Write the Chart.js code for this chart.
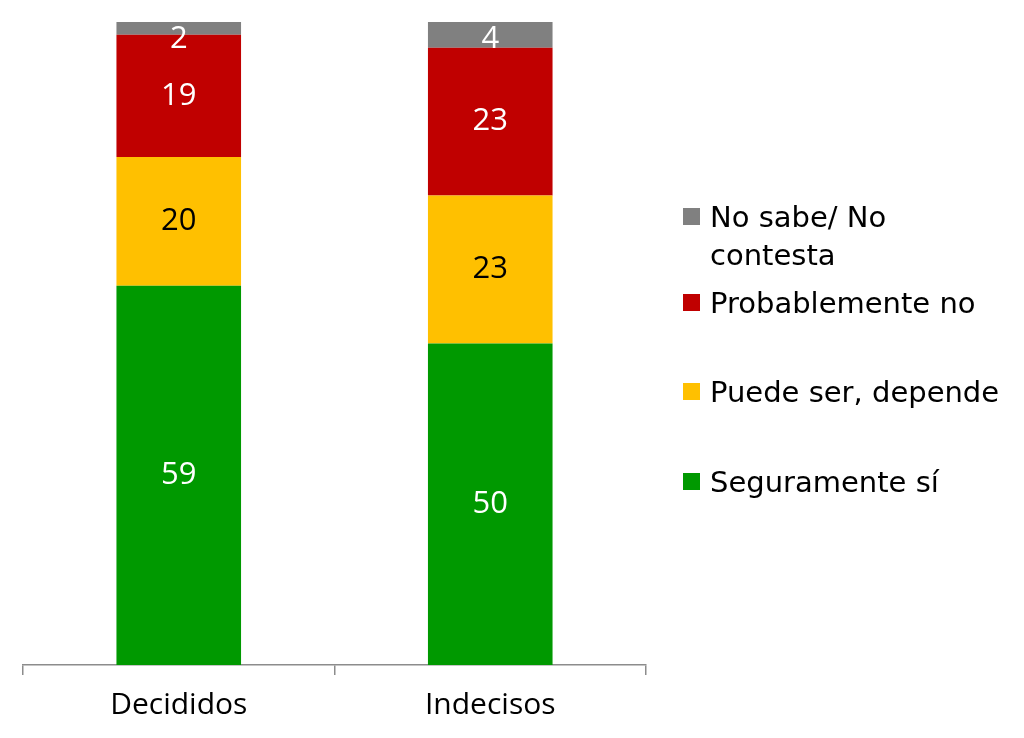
<!DOCTYPE html>
<html>
<head>
<meta charset="utf-8">
<script src="https://cdn.jsdelivr.net/npm/chart.js@4"></script>
<style>
  html, body { margin: 0; padding: 0; background: #fff; }
  #wrap { position: relative; width: 1024px; height: 738px; }
  #legend { position: absolute; left: 0; top: 0; }
  .item { position: absolute; left: 683px; font-family: "DejaVu Sans", sans-serif; font-size: 29px; line-height: 38px; color: #000; }
  .item .box { position: absolute; left: 0; top: 10px; width: 17px; height: 17px; }
  .item .txt { position: absolute; left: 27px; top: 0; width: 300px; }
</style>
</head>
<body>
<div id="wrap">
  <canvas id="chart" width="1024" height="738"></canvas>
  <div id="legend"></div>
</div>
<script>
// datos
const categories = ['Decididos', 'Indecisos'];
const seriesNames = ['Seguramente sí', 'Puede ser, depende', 'Probablemente no', 'No sabe/ No contesta'];
const seguramente = [59, 50];
const puedeSer = [20, 23];
const probablementeNo = [19, 23];
const noSabe = [2, 4];
const colors = ['#009900', '#FFC000', '#C00000', '#808080'];
const labelColors = ['#fff', '#000', '#fff', '#fff'];

const seriesValues = [seguramente, puedeSer, probablementeNo, noSabe];

// etiquetas de valor dentro de las barras
const valueLabels = {
  id: 'valueLabels',
  afterDatasetsDraw(chart) {
    const ctx = chart.ctx;
    ctx.save();
    ctx.font = '31px "Open Sans", sans-serif';
    ctx.textAlign = 'center';
    ctx.textBaseline = 'middle';
    chart.data.datasets.forEach((ds, i) => {
      const meta = chart.getDatasetMeta(i);
      meta.data.forEach((bar, j) => {
        const top = Math.min(bar.y, bar.base);
        const mid = (bar.y + bar.base) / 2;
        const y = Math.max(mid, top + 17);
        ctx.fillStyle = labelColors[i];
        ctx.fillText(ds.data[j], bar.x, y);
      });
    });
    ctx.restore();
  }
};

const chart = new Chart(document.getElementById('chart'), {
  type: 'bar',
  data: {
    labels: categories,
    datasets: seriesNames.map((name, i) => ({
      label: name,
      data: seriesValues[i],
      backgroundColor: colors[i],
      borderWidth: 0,
      barPercentage: 0.4,
      categoryPercentage: 1
    }))
  },
  options: {
    responsive: false,
    animation: false,
    layout: { padding: { left: 23, right: 378, top: 22, bottom: 0 } },
    plugins: { legend: { display: false }, tooltip: { enabled: false } },
    scales: {
      x: {
        stacked: true,
        grid: { offset: true, drawOnChartArea: false, tickLength: 10, color: '#8c8c8c', lineWidth: 1.5 },
        border: { color: '#8c8c8c', width: 1.5 },
        ticks: { color: '#000', font: { family: '"Open Sans", sans-serif', size: 30 }, padding: 12 },
        afterFit(scale) { scale.height = 73; }
      },
      y: { stacked: true, display: false, min: 0, max: 100 }
    }
  },
  plugins: [valueLabels]
});

// leyenda (orden inverso, como en la figura)
const legend = document.getElementById('legend');
const legendTops = [463, 373, 284, 198];
seriesNames.forEach((name, i) => {
  const item = document.createElement('div');
  item.className = 'item';
  item.style.top = legendTops[i] + 'px';
  item.innerHTML = `<div class="box" style="background:${colors[i]}"></div><div class="txt">${name}</div>`;
  legend.appendChild(item);
});
</script>
</body>
</html>
